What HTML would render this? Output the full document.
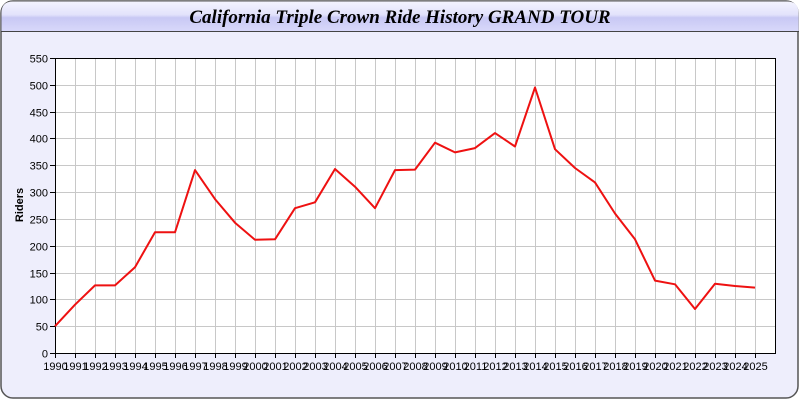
<!DOCTYPE html>
<html><head><meta charset="utf-8"><style>
html,body{margin:0;padding:0;background:#fff;}
svg{display:block;}
</style></head><body>
<svg width="800" height="400" xmlns="http://www.w3.org/2000/svg">
<defs>
<linearGradient id="tg" x1="0" y1="0" x2="0" y2="1">
<stop offset="0" stop-color="#f4f4ff"/><stop offset="0.45" stop-color="#e2e2fb"/><stop offset="0.55" stop-color="#c8c8f4"/><stop offset="1" stop-color="#d8d8fa"/>
</linearGradient>
</defs>
<rect x="1" y="1" width="797" height="397" rx="12" fill="#eeeefc" stroke="#555" stroke-width="1.5"/>
<path d="M1.5,31 L1.5,13 Q1.5,1.5 13,1.5 L787,1.5 Q798.5,1.5 798.5,13 L798.5,31 Z" fill="url(#tg)"/>
<line x1="1" y1="31.5" x2="799" y2="31.5" stroke="#444" stroke-width="1"/>
<text x="400" y="23" text-anchor="middle" font-family="Liberation Serif, serif" font-size="19" font-weight="bold" font-style="italic" fill="#000">California Triple Crown Ride History GRAND TOUR</text>
<rect x="55" y="58" width="720" height="295" fill="#fff"/>
<g stroke="#c8c8c8" stroke-width="1" id="grid"></g>
<g id="axes" font-family="Liberation Sans, sans-serif" font-size="11" fill="#000"></g>
<rect x="55.5" y="58.5" width="720" height="295" fill="none" stroke="#000" stroke-width="1"/>
<polyline id="ln" fill="none" stroke="#ee1111" stroke-width="2" stroke-linejoin="round"/>
<text transform="translate(23,205) rotate(-90)" text-anchor="middle" font-family="Liberation Sans, sans-serif" font-size="11" font-weight="bold">Riders</text>
</svg>
<script>
var ns="http://www.w3.org/2000/svg";
var d=[50,90,126,126,160,225,225,341,287,243,211,212,270,281,343,310,270,341,342,392,374,382,410,385,495,380,345,318,260,212,135,128,82,129,125,122];
function Y(v){return 353-v*295/550;}
var g=document.getElementById('grid'),a=document.getElementById('axes');
function el(p,t,at){var e=document.createElementNS(ns,t);for(var k in at)e.setAttribute(k,at[k]);p.appendChild(e);return e;}
for(var v=0;v<=550;v+=50){var y=Math.round(Y(v))+0.5;
 if(v>0&&v<550)el(g,'line',{x1:55,x2:775,y1:y,y2:y});
 el(a,'line',{x1:50,x2:55,y1:y,y2:y,stroke:'#000'});
 var t=el(a,'text',{x:48,y:y+4,'text-anchor':'end'});t.textContent=v;}
for(var i=0;i<36;i++){var x=55+20*i+0.5;
 if(i>0)el(g,'line',{x1:x,x2:x,y1:58,y2:353});
 el(a,'line',{x1:x,x2:x,y1:353,y2:358,stroke:'#000'});
 var t=el(a,'text',{x:x,y:370,'text-anchor':'middle'});t.textContent=1990+i;}
document.getElementById('ln').setAttribute('points',d.map(function(v,i){return (55+20*i)+','+Y(v).toFixed(1);}).join(' '));
</script>
</body></html>
